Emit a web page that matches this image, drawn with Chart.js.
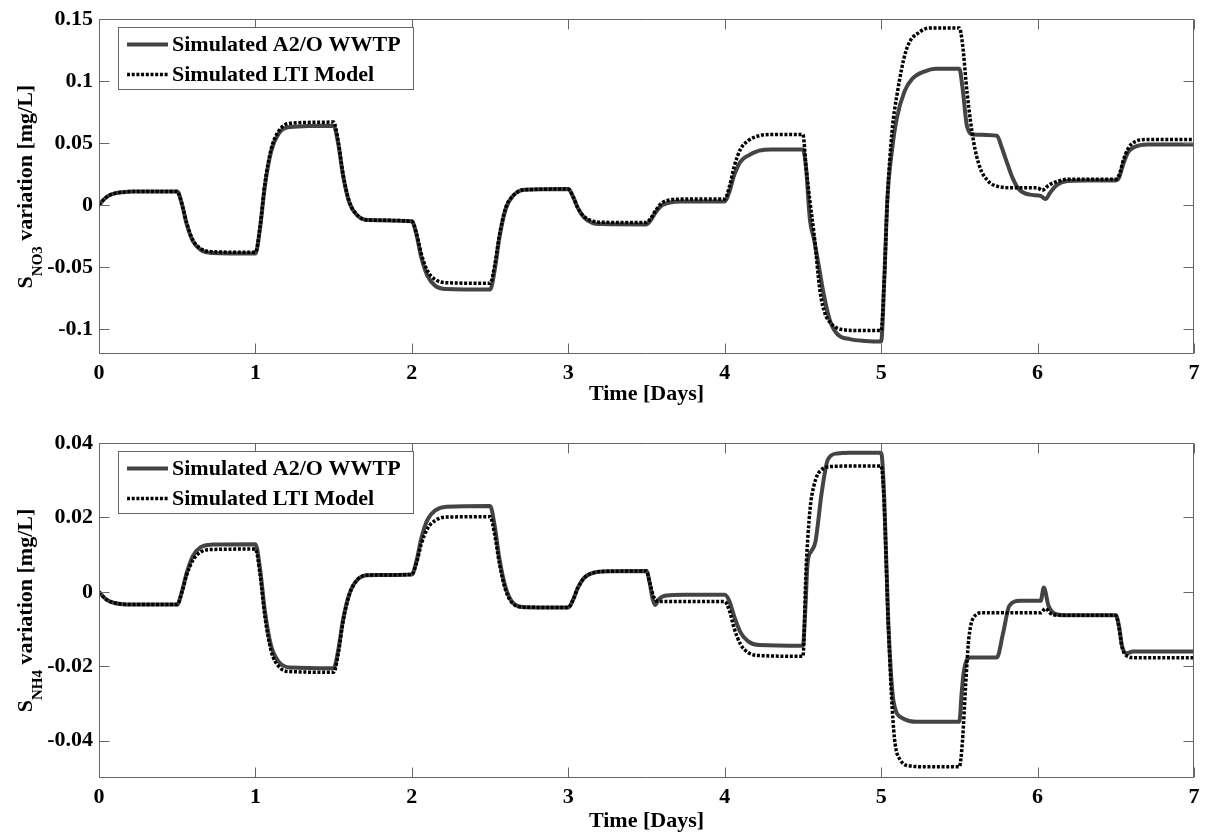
<!DOCTYPE html>
<html><head><meta charset="utf-8">
<script src="https://cdn.jsdelivr.net/npm/chart.js@4/dist/chart.umd.min.js"></script>
<style>
html,body{margin:0;padding:0;background:#fff;}
#wrap{position:relative;width:1209px;height:836px;background:#fff;}
canvas{position:absolute;left:0;}
</style></head><body>
<div id="wrap">
<canvas id="c1" width="1209" height="418" style="top:0px"></canvas>
<canvas id="c2" width="1209" height="418" style="top:418px"></canvas>
</div>
<script>
// ---------- data ----------
const seriesNames = ['Simulated A2/O WWTP', 'Simulated LTI Model'];
const xTicks = [0, 1, 2, 3, 4, 5, 6, 7];
const xTitle = 'Time [Days]';

const no3YTicks = [-0.1, -0.05, 0, 0.05, 0.1, 0.15];
const no3YTickLabels = ['-0.1', '-0.05', '0', '0.05', '0.1', '0.15'];
const nh4YTicks = [-0.04, -0.02, 0, 0.02, 0.04];
const nh4YTickLabels = ['-0.04', '-0.02', '0', '0.02', '0.04'];

const no3SimTime = [0,0.03,0.06,0.1,0.15,0.22,
0.5,0.53,0.56,0.6,0.65,0.72,
1.0,1.03,1.06,1.1,1.15,1.22,
1.5,1.53,1.56,1.6,1.65,1.72,
2.0,2.03,2.06,2.1,2.15,2.22,
2.5,2.53,2.56,2.6,2.65,2.72,
3.0,3.03,3.06,3.1,3.15,3.22,
3.5,3.53,3.56,3.6,3.65,3.72,
4.0,4.03,4.06,4.1,4.15,4.22,4.3,
4.5,4.52,4.545,4.57,4.6,4.63,4.67,4.72,4.8,4.9,
5.0,5.02,5.04,5.07,5.1,5.15,5.2,5.28,5.35,
5.5,5.52,5.55,5.59,5.74,5.77,5.8,5.84,5.88,5.95,6.02,6.05,6.08,6.12,6.19,6.3,
6.5,6.52,6.55,6.58,6.62,6.7,7.0];
const no3Sim = [0,0.0045,0.0075,0.0095,0.0105,0.011,
0.011,0.001,-0.015,-0.029,-0.036,-0.0385,
-0.039,-0.018,0.015,0.043,0.058,0.063,
0.064,0.049,0.024,0.002,-0.008,-0.012,
-0.013,-0.024,-0.042,-0.057,-0.065,-0.0675,
-0.068,-0.052,-0.026,-0.003,0.008,0.0125,
0.013,0.007,-0.002,-0.0098,-0.014,-0.0152,
-0.0155,-0.0115,-0.0055,0,0.0022,0.0029,
0.003,0.011,0.024,0.035,0.040,0.044,0.045,
0.045,0.03,-0.012,-0.027,-0.048,-0.07,-0.092,-0.104,-0.108,-0.1095,
-0.11,-0.06,0.005,0.045,0.07,0.092,0.102,0.108,0.11,
0.11,0.095,0.063,0.057,0.056,0.047,0.036,0.022,0.013,0.0085,0.0075,0.005,0.01,0.016,0.0195,0.02,
0.02,0.022,0.034,0.043,0.047,0.049,0.049];

const no3LtiTime = [0,0.03,0.06,0.1,0.15,0.22,
0.5,0.53,0.56,0.6,0.65,0.72,
1.0,1.03,1.06,1.1,1.15,1.22,
1.5,1.53,1.56,1.6,1.65,1.72,
2.0,2.03,2.06,2.1,2.15,2.22,
2.5,2.53,2.56,2.6,2.65,2.72,
3.0,3.03,3.06,3.1,3.15,3.22,
3.5,3.53,3.56,3.6,3.65,3.72,
4.0,4.03,4.06,4.1,4.15,4.22,4.3,
4.5,4.52,4.545,4.57,4.61,4.64,4.67,4.74,4.85,
5.0,5.02,5.04,5.07,5.1,5.16,5.25,5.33,
5.5,5.52,5.55,5.59,5.63,5.68,5.75,5.85,6.0,6.03,6.07,6.12,6.2,
6.5,6.52,6.55,6.58,6.62,6.7,7.0];
const no3Lti = [0,0.0045,0.0075,0.0095,0.0105,0.011,
0.011,0.001,-0.014,-0.028,-0.035,-0.0375,
-0.038,-0.017,0.017,0.045,0.06,0.066,
0.067,0.051,0.025,0.003,-0.008,-0.012,
-0.013,-0.023,-0.039,-0.053,-0.06,-0.0625,
-0.063,-0.048,-0.024,-0.002,0.008,0.0125,
0.013,0.007,-0.002,-0.009,-0.0125,-0.0138,
-0.014,-0.01,-0.004,0.002,0.0042,0.0049,
0.005,0.015,0.031,0.045,0.052,0.056,0.057,
0.057,0.031,0.003,-0.022,-0.07,-0.087,-0.094,-0.1,-0.101,
-0.101,-0.06,0.005,0.06,0.088,0.125,0.14,0.143,
0.143,0.13,0.09,0.052,0.031,0.02,0.015,0.014,0.014,0.012,0.016,0.019,0.021,
0.021,0.024,0.037,0.046,0.051,0.053,0.053];

const nh4SimTime = [0,0.03,0.06,0.1,0.15,0.22,
0.5,0.53,0.56,0.6,0.65,0.72,
1.0,1.03,1.06,1.1,1.15,1.22,
1.5,1.53,1.56,1.6,1.65,1.72,
2.0,2.03,2.06,2.1,2.15,2.22,
2.5,2.53,2.56,2.6,2.65,2.72,
3.0,3.03,3.06,3.1,3.15,3.22,
3.5,3.52,3.54,3.555,3.575,3.6,3.65,3.75,
4.0,4.03,4.06,4.1,4.15,4.22,
4.5,4.515,4.53,4.555,4.58,4.62,4.66,4.72,4.8,
5.0,5.02,5.045,5.08,5.14,5.23,
5.5,5.515,5.53,5.57,5.74,5.78,5.82,5.89,6.02,6.04,6.07,6.12,6.2,
6.5,6.52,6.54,6.57,6.61,7.0];
const nh4Sim = [0,-0.0014,-0.0024,-0.003,-0.0033,-0.0034,
-0.0034,0.0001,0.005,0.0096,0.012,0.0127,
0.0128,0.006,-0.005,-0.0145,-0.0188,-0.0203,
-0.0205,-0.0155,-0.0075,-0.0006,0.0032,0.0045,
0.0047,0.0084,0.0143,0.0194,0.0219,0.0229,
0.0231,0.0176,0.0088,0.0011,-0.0031,-0.0041,
-0.0042,-0.0022,0.001,0.0037,0.005,0.0055,
0.0056,0.0025,-0.002,-0.0035,-0.0022,-0.0013,-0.0009,-0.0008,
-0.0008,-0.0025,-0.0065,-0.0108,-0.0133,-0.0143,
-0.0145,-0.005,0.0079,0.011,0.0135,0.0267,0.0356,0.0372,0.0374,
0.0374,0.025,-0.0073,-0.0296,-0.034,-0.0349,
-0.0349,-0.027,-0.021,-0.0176,-0.0176,-0.011,-0.0037,-0.0024,-0.0024,0.0012,-0.0037,-0.006,-0.0063,
-0.0063,-0.009,-0.0145,-0.0165,-0.016,-0.016];

const nh4LtiTime = [0,0.03,0.06,0.1,0.15,0.22,
0.5,0.53,0.56,0.6,0.65,0.72,
1.0,1.03,1.06,1.1,1.15,1.22,
1.5,1.53,1.56,1.6,1.65,1.72,
2.0,2.03,2.06,2.1,2.15,2.22,
2.5,2.53,2.56,2.6,2.65,2.72,
3.0,3.03,3.06,3.1,3.15,3.22,
3.5,3.52,3.545,3.565,3.6,
4.0,4.03,4.06,4.1,4.15,4.22,
4.5,4.52,4.545,4.57,4.61,4.69,4.8,
5.0,5.02,5.045,5.08,5.12,5.19,5.3,
5.5,5.52,5.54,5.56,5.6,5.65,6.02,6.05,6.09,6.15,
6.5,6.52,6.54,6.57,6.62,7.0];
const nh4Lti = [0,-0.0014,-0.0024,-0.003,-0.0033,-0.0034,
-0.0034,-0.0001,0.0045,0.0085,0.0107,0.0114,
0.0115,0.0045,-0.0065,-0.0158,-0.0201,-0.0214,
-0.0216,-0.0165,-0.008,-0.0008,0.0032,0.0045,
0.0047,0.0078,0.0128,0.017,0.0192,0.0201,
0.0202,0.0153,0.0075,0.0004,-0.0033,-0.0041,
-0.0042,-0.0022,0.001,0.0037,0.005,0.0055,
0.0056,0.0026,-0.0012,-0.0024,-0.0026,
-0.0026,-0.005,-0.0097,-0.014,-0.0163,-0.0171,
-0.0173,0.006,0.022,0.0285,0.0325,0.0337,0.0338,
0.0338,0.023,-0.008,-0.037,-0.045,-0.0468,-0.047,
-0.047,-0.04,-0.0252,-0.0127,-0.0064,-0.0056,-0.0056,-0.0045,-0.006,-0.0063,
-0.0063,-0.0095,-0.0148,-0.0172,-0.0177,-0.0177];

// ---------- rendering ----------
const FONT = "'Liberation Serif', 'Times New Roman', serif";
Chart.defaults.font.family = FONT;
Chart.defaults.color = '#000';
const AXIS_COLOR = '#666666';
const SIM_COLOR = '#444444';
const LTI_COLOR = '#000000';

function zip(t, v) { return t.map((x, i) => ({x: x, y: v[i]})); }

const framePlugin = {
  id: 'frame',
  afterDatasetsDraw(chart, args, opts) {
    const {ctx, chartArea: a, scales: {x, y}} = chart;
    ctx.save();
    ctx.strokeStyle = AXIS_COLOR;
    ctx.lineWidth = 1;
    const L = Math.round(a.left) + 0.5, R = Math.round(a.right) - 0.5;
    const T = Math.round(a.top) + 0.5, B = Math.round(a.bottom) - 0.5;
    ctx.beginPath();
    ctx.rect(L, T, R - L, B - T);
    const tl = 10;
    xTicks.forEach(v => {
      const px = Math.round(x.getPixelForValue(v)) + 0.5;
      ctx.moveTo(px, B); ctx.lineTo(px, B - tl);
      ctx.moveTo(px, T); ctx.lineTo(px, T + tl);
    });
    opts.yTicks.forEach(v => {
      const py = Math.round(y.getPixelForValue(v)) + 0.5;
      ctx.moveTo(L, py); ctx.lineTo(L + tl, py);
      ctx.moveTo(R, py); ctx.lineTo(R - tl, py);
    });
    ctx.stroke();

    // legend
    const lx = 118.5, ly = Math.round(a.top) + 8.5, lw = 295, lh = 62;
    ctx.fillStyle = '#fff';
    ctx.fillRect(lx, ly, lw, lh);
    ctx.strokeRect(lx, ly, lw, lh);
    const rows = [ly + 17, ly + 47];
    ctx.lineCap = 'butt';
    ctx.strokeStyle = SIM_COLOR; ctx.lineWidth = 4; ctx.setLineDash([]);
    ctx.beginPath(); ctx.moveTo(127, rows[0]); ctx.lineTo(168, rows[0]); ctx.stroke();
    ctx.strokeStyle = LTI_COLOR; ctx.lineWidth = 3.5; ctx.setLineDash([3, 1.7]);
    ctx.beginPath(); ctx.moveTo(127, rows[1]); ctx.lineTo(168, rows[1]); ctx.stroke();
    ctx.setLineDash([]);
    ctx.fillStyle = '#000';
    ctx.font = 'bold 22px ' + FONT;
    ctx.textBaseline = 'middle';
    ctx.textAlign = 'left';
    ctx.fillText(seriesNames[0], 172, rows[0] + 1);
    ctx.fillText(seriesNames[1], 172, rows[1] + 1);

    // y title with subscript
    const big = 'bold 22px ' + FONT, small = 'bold 15px ' + FONT;
    const parts = [['S', big, 0], [opts.sub, small, 10], [' variation [mg/L]', big, 0]];
    let W = 0;
    parts.forEach(p => { ctx.font = p[1]; p.push(ctx.measureText(p[0]).width); W += p[3]; });
    const cy = (a.top + a.bottom) / 2;
    ctx.translate(32, cy);
    ctx.rotate(-Math.PI / 2);
    ctx.textBaseline = 'alphabetic';
    let cx = -W / 2;
    parts.forEach(p => { ctx.font = p[1]; ctx.fillText(p[0], cx, p[2]); cx += p[3]; });
    ctx.restore();
  }
};

function makeChart(id, o) {
  return new Chart(document.getElementById(id), {
    type: 'line',
    data: {
      datasets: [
        {label: seriesNames[0], data: zip(o.simT, o.sim), borderColor: SIM_COLOR, borderWidth: 4,
         pointRadius: 0, cubicInterpolationMode: 'monotone', fill: false, order: 1},
        {label: seriesNames[1], data: zip(o.ltiT, o.lti), borderColor: LTI_COLOR, borderWidth: 3.5,
         borderDash: [3, 1.7], pointRadius: 0, cubicInterpolationMode: 'monotone', fill: false, order: 0}
      ]
    },
    options: {
      responsive: false, animation: false, events: [],
      layout: {padding: {left: 0, right: 15, top: o.padTop, bottom: 0}},
      plugins: {legend: {display: false}, tooltip: {enabled: false}, frame: {yTicks: o.yTicks, sub: o.sub}},
      scales: {
        x: {
          type: 'linear', min: 0, max: 7,
          grid: {display: false, drawTicks: false},
          border: {display: false},
          afterBuildTicks: s => { s.ticks = xTicks.map(v => ({value: v})); },
          afterFit: s => { s.height = o.xH; },
          ticks: {autoSkip: false, maxRotation: 0, padding: 6, color: '#000',
                  font: {size: 22, weight: 'bold'}, callback: v => String(v)},
          title: {display: true, text: xTitle, color: '#000', font: {size: 22, weight: 'bold'},
                  padding: {top: 0, bottom: o.titlePad}}
        },
        y: {
          type: 'linear', min: o.yMin, max: o.yMax,
          grid: {display: false, drawTicks: false},
          border: {display: false},
          afterBuildTicks: s => { s.ticks = o.yTicks.map(v => ({value: v})); },
          afterFit: s => { s.width = 99; },
          ticks: {autoSkip: false, padding: 6, color: '#000', font: {size: 22, weight: 'bold'},
                  callback: (v) => { const i = o.yTicks.findIndex(t => Math.abs(t - v) < 1e-9); return i >= 0 ? o.yLabels[i] : ''; }}
        }
      }
    },
    plugins: [framePlugin]
  });
}

makeChart('c1', {simT: no3SimTime, sim: no3Sim, ltiT: no3LtiTime, lti: no3Lti,
  yMin: -0.12, yMax: 0.15, yTicks: no3YTicks, yLabels: no3YTickLabels, sub: 'NO3',
  padTop: 18, xH: 64, titlePad: 10});
makeChart('c2', {simT: nh4SimTime, sim: nh4Sim, ltiT: nh4LtiTime, lti: nh4Lti,
  yMin: -0.05, yMax: 0.04, yTicks: nh4YTicks, yLabels: nh4YTickLabels, sub: 'NH4',
  padTop: 25, xH: 58, titlePad: 1});
</script>
</body></html>
